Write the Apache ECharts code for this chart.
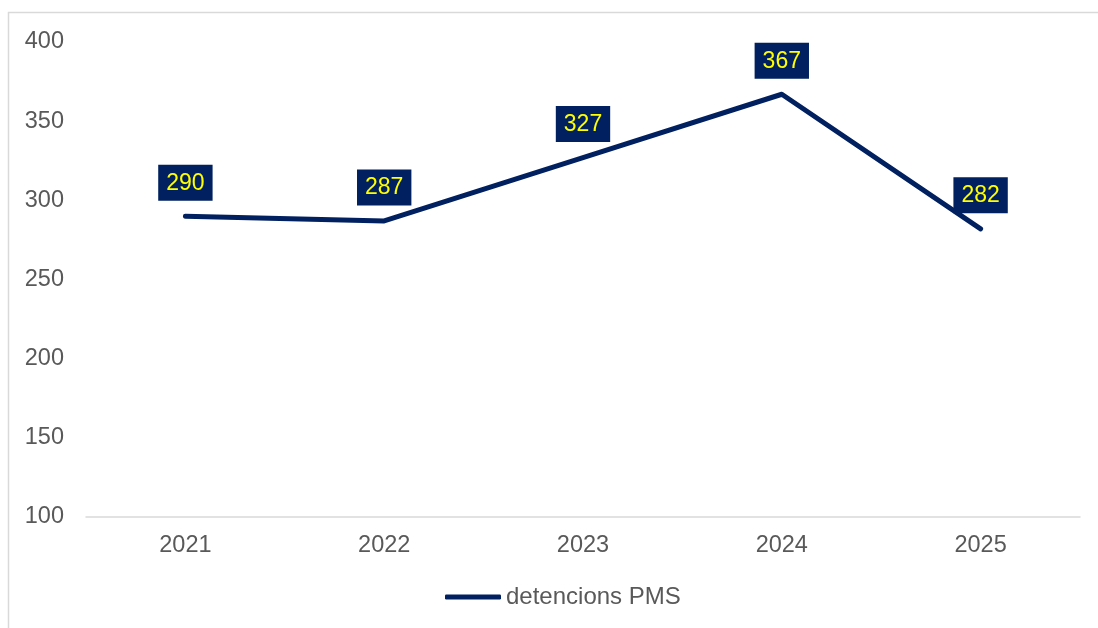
<!DOCTYPE html>
<html>
<head>
<meta charset="utf-8">
<script src="https://cdn.jsdelivr.net/npm/echarts@6/dist/echarts.min.js"></script>
<style>
html,body{margin:0;padding:0;background:#fff;}
#chart{width:1098px;height:628px;}
</style>
</head>
<body>
<div id="chart"></div>
<script>
const categories = ['2021', '2022', '2023', '2024', '2025'];
const seriesName = 'detencions PMS';
const values = [290, 287, 327, 367, 282];
const yMin = 100, yMax = 400, yInterval = 50;

const chart = echarts.init(document.getElementById('chart'), null, {renderer: 'canvas'});
const font = 'Liberation Sans, Arial, sans-serif';
chart.setOption({
  animation: false,
  backgroundColor: '#fff',
  graphic: [{
    type: 'rect',
    shape: {x: 8.5, y: 12.5, width: 1300, height: 1000},
    style: {fill: 'none', stroke: '#d9d9d9', lineWidth: 1.5},
    silent: true, z: -1
  }],
  grid: {left: 86, right: 18, top: 42, bottom: 111},
  legend: {
    show: true,
    bottom: 19,
    left: 445,
    padding: 0,
    icon: 'roundRect',
    itemWidth: 56,
    itemHeight: 5,
    itemGap: 4,
    textStyle: {color: '#595959', fontSize: 24, fontFamily: font},
    itemStyle: {color: '#002060', borderWidth: 0}
  },
  xAxis: {
    type: 'category',
    data: categories,
    boundaryGap: true,
    axisLine: {lineStyle: {color: '#d9d9d9', width: 1.5}},
    axisTick: {show: false},
    axisLabel: {color: '#595959', fontSize: 23.5, fontFamily: font, margin: 17}
  },
  yAxis: {
    type: 'value',
    min: yMin, max: yMax, interval: yInterval,
    axisLine: {show: false},
    axisTick: {show: false},
    splitLine: {show: false},
    axisLabel: {color: '#595959', fontSize: 23.5, fontFamily: font, margin: 22}
  },
  series: [{
    name: seriesName,
    type: 'line',
    data: values,
    symbol: 'circle',
    symbolSize: 1,
    showSymbol: true,
    lineStyle: {color: '#002060', width: 5, cap: 'round', join: 'round'},
    itemStyle: {color: 'rgba(0,0,0,0)'},
    label: {
      show: true,
      position: 'top',
      distance: 15,
      color: '#ffff00',
      fontSize: 23,
      fontFamily: font,
      backgroundColor: '#002060',
      padding: [7, 8, 6, 8]
    }
  }]
});
</script>
</body>
</html>
